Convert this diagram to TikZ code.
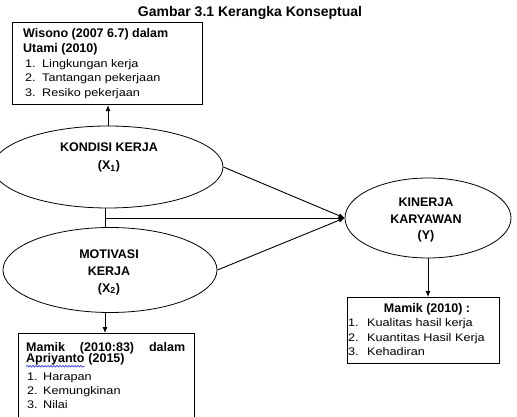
\documentclass[tikz,border=0pt]{standalone}
\usepackage{fontspec}
\setmainfont{Liberation Sans}
\newfontfamily\itemf[FakeStretch=1.15]{Liberation Sans}
\usetikzlibrary{shapes.geometric,arrows.meta,decorations.pathmorphing}
\begin{document}
\begin{tikzpicture}[x=1pt,y=-1pt,
 box/.style={draw,line width=1.1pt,rectangle,inner sep=0pt,anchor=north west},
 oval/.style={draw,line width=0.8pt,ellipse,inner sep=0pt},
 conn/.style={line width=0.9pt},
 arr/.style={conn,-{Latex[length=6pt,width=5pt]}},
 lbl/.style={inner sep=0pt,anchor=base,font=\fontsize{12.5}{14}\selectfont\bfseries},
 hdr/.style={inner sep=0pt,anchor=base west,font=\fontsize{12.5}{14}\selectfont\bfseries},
 itm/.style={inner sep=0pt,anchor=base west,font=\itemf\fontsize{11}{13}\selectfont},
]
\useasboundingbox (0,0) rectangle (517,417);

% title
\node[lbl,font=\fontsize{14}{16}\selectfont\bfseries] (title) at (250,16.7) {Gambar 3.1 Kerangka Konseptual};

% boxes
\node[box,minimum width=190pt,minimum height=82pt] (b1) at (12,22) {};
\node[box,minimum width=152pt,minimum height=66pt] (b2) at (347,297) {};
\node[box,minimum width=176pt,minimum height=100pt] (b3) at (18,333) {};

% ellipses
\node[oval,minimum width=230pt,minimum height=82pt] (e1) at (108,167) {};
\node[oval,minimum width=214pt,minimum height=85pt] (e2) at (110,270) {};
\node[oval,minimum width=166pt,minimum height=80pt] (kin) at (428,218) {};

% box 1 text
\node[hdr] (b1h1) at (23,38) {Wisono (2007 6.7) dalam};
\node[hdr] (b1h2) at (23,53) {Utami (2010)};
\node[itm] (b1n1) at (25,68) {1.};
\node[itm] (b1t1) at (42,68) {Lingkungan kerja};
\node[itm] (b1n2) at (25,82) {2.};
\node[itm] (b1t2) at (42,82) {Tantangan pekerjaan};
\node[itm] (b1n3) at (25,97) {3.};
\node[itm] (b1t3) at (42,97) {Resiko pekerjaan};

% box 2 text
\node[lbl] (b2h) at (427,312) {Mamik (2010) :};
\node[itm] (b2n1) at (348,326) {1.};
\node[itm] (b2t1) at (367,326) {Kualitas hasil kerja};
\node[itm] (b2n2) at (348,341) {2.};
\node[itm] (b2t2) at (367,341) {Kuantitas Hasil Kerja};
\node[itm] (b2n3) at (348,355) {3.};
\node[itm] (b2t3) at (367,355) {Kehadiran};

% box 3 text
\node[hdr] (b3h1) at (26,351) {\makebox[159pt][s]{Mamik (2010:83) dalam}};
\node[hdr] (apr) at (26,362) {Apriyanto};
\node[hdr] (apryr) at ([xshift=3.5pt]apr.base east) {(2015)};
\draw[blue!80!black,line width=0.5pt,decorate,decoration={snake,amplitude=0.8pt,segment length=3pt}]
  ([yshift=-1.5pt]apr.south west) -- ([yshift=-1.5pt]apr.south east);
\node[itm] (b3n1) at (27,380) {1.};
\node[itm] (b3t1) at (43,380) {Harapan};
\node[itm] (b3n2) at (27,394) {2.};
\node[itm] (b3t2) at (43,394) {Kemungkinan};
\node[itm] (b3n3) at (27,408) {3.};
\node[itm] (b3t3) at (43,408) {Nilai};

% ellipse labels
\node[lbl] (e1l1) at (109,152) {KONDISI KERJA};
\node[lbl] (e1l2) at (109,170) {(X\textsubscript{1})};
\node[lbl] (e2l1) at (109,258) {MOTIVASI};
\node[lbl] (e2l2) at (109,275) {KERJA};
\node[lbl] (e2l3) at (109,292) {(X\textsubscript{2})};
\node[lbl] (kl1) at (426,207) {KINERJA};
\node[lbl] (kl2) at (426,223) {KARYAWAN};
\node[lbl] (kl3) at (426,240) {(Y)};

% connectors
\coordinate (j) at (105,218);
\draw[arr] (e1.north) -- (e1.north |- b1.south);
\draw[conn] (j |- e1.south) -- (j |- e2.north);
\draw[arr] (j) -- (kin.west);
\draw[arr] (e1.east) -- (kin.west);
\draw[arr] (e2.east) -- (kin.west);
\draw[arr] (j |- e2.south) -- (j |- b3.north);
\draw[arr] (kin.south) -- (kin.south |- b2.north);
\end{tikzpicture}
\end{document}
